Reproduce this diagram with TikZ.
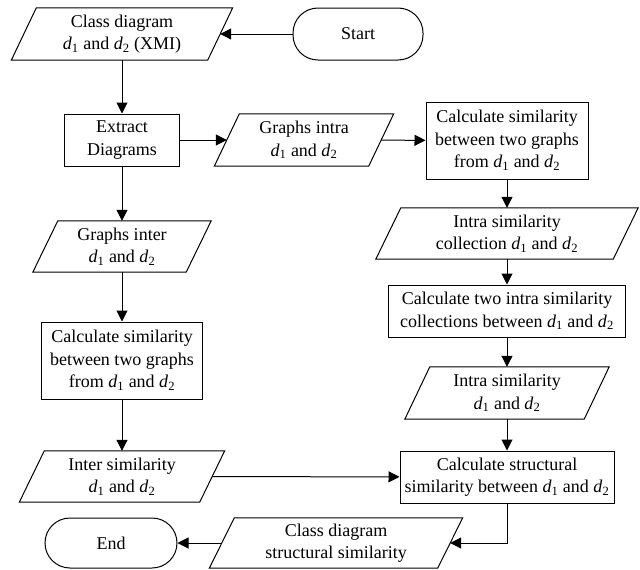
\documentclass[tikz,border=0pt]{standalone}
\usepackage{fontspec}
\setmainfont{Liberation Serif}
\usetikzlibrary{arrows.meta}
\newcommand\dx[1]{\textit{d}\textsubscript{#1}}
\tikzset{
  base/.style={align=center, inner sep=0pt, font=\fontsize{18}{22.5}\selectfont},
  proc/.style={base, draw, line width=1pt},
  io/.style={base},
  term/.style={base, draw, line width=1pt, rounded corners=25pt},
  arr/.style={line width=1pt, -{Triangle[length=11pt,width=11pt]}},
}
\begin{document}
\begin{tikzpicture}[x=1pt,y=-1pt]
\useasboundingbox (0,0) rectangle (640,570);
\node[io, minimum width=196pt, minimum height=52pt] (cd) at (122,34) {Class diagram\\\dx1 and \dx2 (XMI)};
\node[term, minimum width=130pt, minimum height=52pt] (start) at (358,34) {Start};
\node[proc, minimum width=115pt, minimum height=52pt] (ext) at (122,140) {Extract\\Diagrams};
\node[io, minimum width=154pt, minimum height=52pt] (gintra) at (304,140) {Graphs intra\\\dx1 and \dx2};
\node[proc, minimum width=162pt, minimum height=77pt] (calc1) at (507,140.5) {Calculate similarity\\between two graphs\\from \dx1 and \dx2};
\node[io, minimum width=237pt, minimum height=51pt] (icoll) at (507,233.5) {Intra similarity\\collection \dx1 and \dx2};
\node[proc, minimum width=237pt, minimum height=52pt] (calc2) at (507,311) {Calculate two intra similarity\\collections between \dx1 and \dx2};
\node[io, minimum width=179pt, minimum height=52pt] (isim) at (507,393) {Intra similarity\\\dx1 and \dx2};
\node[proc, minimum width=214pt, minimum height=52pt] (struct) at (507,477) {Calculate structural\\similarity between \dx1 and \dx2};
\node[io, minimum width=228pt, minimum height=50pt] (cdss) at (336,543) {Class diagram\\structural similarity};
\node[term, minimum width=132pt, minimum height=50pt] (endn) at (111,543) {End};
\node[io, minimum width=153pt, minimum height=51pt] (ginter) at (122,246.5) {Graphs inter\\\dx1 and \dx2};
\node[proc, minimum width=161pt, minimum height=77pt] (calc3) at (122,360.5) {Calculate similarity\\between two graphs\\from \dx1 and \dx2};
\node[io, minimum width=180pt, minimum height=51pt] (insim) at (122,476.5) {Inter similarity\\\dx1 and \dx2};
\foreach \n in {cd,gintra,icoll,isim,cdss,ginter,insim}{
  \draw[line width=1pt] ([xshift=12.5pt]\n.north west) -- ([xshift=12.5pt]\n.north east)
    -- ([xshift=-12.5pt]\n.south east) -- ([xshift=-12.5pt]\n.south west) -- cycle;
}
\draw[arr] (start) -- (cd);
\draw[arr] (cd) -- (ext);
\draw[arr] (ext) -- (gintra);
\draw[arr] (gintra) -- (calc1);
\draw[arr] (calc1) -- (icoll);
\draw[arr] (icoll) -- (calc2);
\draw[arr] (calc2) -- (isim);
\draw[arr] (isim) -- (struct);
\draw[arr] (ext) -- (ginter);
\draw[arr] (ginter) -- (calc3);
\draw[arr] (calc3) -- (insim);
\draw[arr] (insim) -- (struct);
\draw[arr] (struct.south) |- (cdss.east);
\draw[arr] (cdss) -- (endn);
\end{tikzpicture}
\end{document}
